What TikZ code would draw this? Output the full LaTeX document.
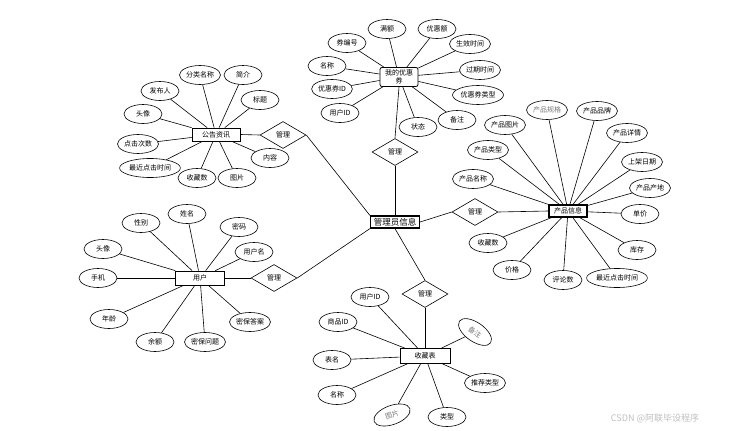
\documentclass[tikz,border=0pt]{standalone}
\usepackage{fontspec}
\setmainfont{Noto Sans CJK SC}
\usepackage{tikz}
\usetikzlibrary{shapes.geometric}
\definecolor{attrgrey}{RGB}{120,120,120}
\definecolor{markgrey}{RGB}{190,190,190}

\begin{document}
\begin{tikzpicture}[
    x=1pt, y=-1pt,
    attr/.style={ellipse, draw, line width=0.6pt, fill=white, minimum width=38pt, minimum height=19pt, inner sep=0.5pt, font=\fontsize{7pt}{8pt}\selectfont},
    softattr/.style={attr, text=attrgrey},
    entity/.style={rectangle, draw, line width=0.8pt, fill=white, minimum width=48pt, minimum height=13pt, inner sep=1pt, font=\fontsize{7pt}{8pt}\selectfont},
    rel/.style={diamond, draw, line width=0.6pt, fill=white, minimum width=46pt, minimum height=27pt, inner sep=0pt, font=\fontsize{7pt}{8pt}\selectfont},
    link/.style={line width=0.6pt}
]
\useasboundingbox (0,0) rectangle (734,431);

% centre
\node[entity, line width=1.3pt, minimum width=49pt, minimum height=12pt, font=\fontsize{8.5pt}{9pt}\selectfont] (admin) at (395,222) {管理员信息};

\node[rel] (relC) at (395,152) {管理};
\node[rel] (relA) at (283,135) {管理};
\node[rel] (relU) at (274,278) {管理};
\node[rel] (relP) at (475,212) {管理};
\node[rel] (relF) at (425,294) {管理};

% coupon
\node[entity, rounded corners=2pt, minimum width=38pt, minimum height=19pt, align=center, font=\fontsize{7pt}{7.5pt}\selectfont] (coupon) at (399,77) {我的优惠\\券};
\node[attr] (c1) at (387,29) {满额};
\node[attr] (c2) at (437,29) {优惠额};
\node[attr] (c3) at (470,44) {生效时间};
\node[attr] (c4) at (347,43) {券编号};
\node[attr] (c5) at (327,66) {名称};
\node[attr] (c6) at (480,70) {过期时间};
\node[attr] (c7) at (332,89) {优惠券ID};
\node[attr] (c8) at (478,95) {优惠券类型};
\node[attr] (c9) at (340,113) {用户ID};
\node[attr] (c10) at (418,127) {状态};
\node[attr] (c11) at (457,120) {备注};

% news
\node[entity] (news) at (216,134.5) {公告资讯};
\node[attr] (n1) at (200,75) {分类名称};
\node[attr] (n2) at (243,75) {简介};
\node[attr] (n3) at (160,91) {发布人};
\node[attr] (n4) at (260,100) {标题};
\node[attr] (n5) at (143,114) {头像};
\node[attr] (n6) at (138,144) {点击次数};
\node[attr] (n7) at (150,168) {最近点击时间};
\node[attr] (n8) at (197,178) {收藏数};
\node[attr] (n9) at (237,178) {图片};
\node[attr] (n10) at (270,158) {内容};

% product
\node[entity, line width=1.3pt, minimum width=38pt, minimum height=12pt] (prod) at (568,211) {产品信息};
\node[softattr] (p1) at (547,110) {产品规格};
\node[attr] (p2) at (597,111) {产品品牌};
\node[attr] (p3) at (505,125) {产品图片};
\node[attr] (p4) at (627,133) {产品详情};
\node[attr] (p5) at (488,150) {产品类型};
\node[attr] (p6) at (642,162) {上架日期};
\node[attr] (p7) at (473,179) {产品名称};
\node[attr] (p8) at (650,188) {产品产地};
\node[attr] (p9) at (640,214) {单价};
\node[attr] (p10) at (637,250) {库存};
\node[attr] (p11) at (617,278) {最近点击时间};
\node[attr] (p12) at (563,280) {评论数};
\node[attr] (p13) at (512,270) {价格};
\node[attr] (p14) at (488,243) {收藏数};

% user
\node[entity, minimum width=49pt, minimum height=14pt] (user) at (200,278) {用户};
\node[attr] (u1) at (141,223) {性别};
\node[attr] (u2) at (187,214) {姓名};
\node[attr] (u3) at (239,227) {密码};
\node[attr] (u4) at (254,252) {用户名};
\node[attr] (u5) at (103,249) {头像};
\node[attr] (u6) at (98,278) {手机};
\node[attr] (u7) at (109,319) {年龄};
\node[attr] (u8) at (155,342) {余额};
\node[attr] (u9) at (205,342) {密保问题};
\node[attr] (u10) at (250,322) {密保答案};

% favourites
\node[entity, minimum width=50pt, minimum height=15pt] (fav) at (425,356) {收藏表};
\node[attr] (f1) at (370,297) {用户ID};
\node[attr] (f2) at (338,322) {商品ID};
\node[softattr, rotate=-35] (f3) at (475,332) {备注};
\node[attr] (f4) at (332,360) {表名};
\node[attr] (f5) at (485,383) {推荐类型};
\node[attr] (f6) at (337,395) {名称};
\node[softattr, rotate=20] (f7) at (392,415) {图片};
\node[attr] (f8) at (447,417) {类型};

\node[text=markgrey, font=\fontsize{9pt}{10pt}\selectfont] (mark) at (655,418) {CSDN @阿联毕设程序};

% relations
\draw[link] (admin.north) -- (relC.south);
\draw[link] (relC.north) -- (coupon.south);
\draw[link] (admin.north west) -- (relA.east);
\draw[link] (relA.west) -- (news.east);
\draw[link] (admin.south west) -- (relU.east);
\draw[link] (relU.west) -- (user.east);
\draw[link] (admin.east) -- (relP.west);
\draw[link] (relP.east) -- (prod.west);
\draw[link] (admin.south) -- (relF.north);
\draw[link] (relF.south) -- (fav.north);

% attributes
\draw[link] (coupon) -- (c1);
\draw[link] (coupon) -- (c2);
\draw[link] (coupon) -- (c3);
\draw[link] (coupon) -- (c4);
\draw[link] (coupon) -- (c5);
\draw[link] (coupon) -- (c6);
\draw[link] (coupon) -- (c7);
\draw[link] (coupon) -- (c8);
\draw[link] (coupon) -- (c9);
\draw[link] (coupon) -- (c10);
\draw[link] (coupon) -- (c11);
\draw[link] (news) -- (n1);
\draw[link] (news) -- (n2);
\draw[link] (news) -- (n3);
\draw[link] (news) -- (n4);
\draw[link] (news) -- (n5);
\draw[link] (news) -- (n6);
\draw[link] (news) -- (n7);
\draw[link] (news) -- (n8);
\draw[link] (news) -- (n9);
\draw[link] (news) -- (n10);
\draw[link] (prod) -- (p1);
\draw[link] (prod) -- (p2);
\draw[link] (prod) -- (p3);
\draw[link] (prod) -- (p4);
\draw[link] (prod) -- (p5);
\draw[link] (prod) -- (p6);
\draw[link] (prod) -- (p7);
\draw[link] (prod) -- (p8);
\draw[link] (prod) -- (p9);
\draw[link] (prod) -- (p10);
\draw[link] (prod) -- (p11);
\draw[link] (prod) -- (p12);
\draw[link] (prod) -- (p13);
\draw[link] (prod) -- (p14);
\draw[link] (user) -- (u1);
\draw[link] (user) -- (u2);
\draw[link] (user) -- (u3);
\draw[link] (user) -- (u4);
\draw[link] (user) -- (u5);
\draw[link] (user) -- (u6);
\draw[link] (user) -- (u7);
\draw[link] (user) -- (u8);
\draw[link] (user) -- (u9);
\draw[link] (user) -- (u10);
\draw[link] (fav) -- (f1);
\draw[link] (fav) -- (f2);
\draw[link] (fav) -- (f3);
\draw[link] (fav) -- (f4);
\draw[link] (fav) -- (f5);
\draw[link] (fav) -- (f6);
\draw[link] (fav) -- (f7);
\draw[link] (fav) -- (f8);
\end{tikzpicture}
\end{document}
